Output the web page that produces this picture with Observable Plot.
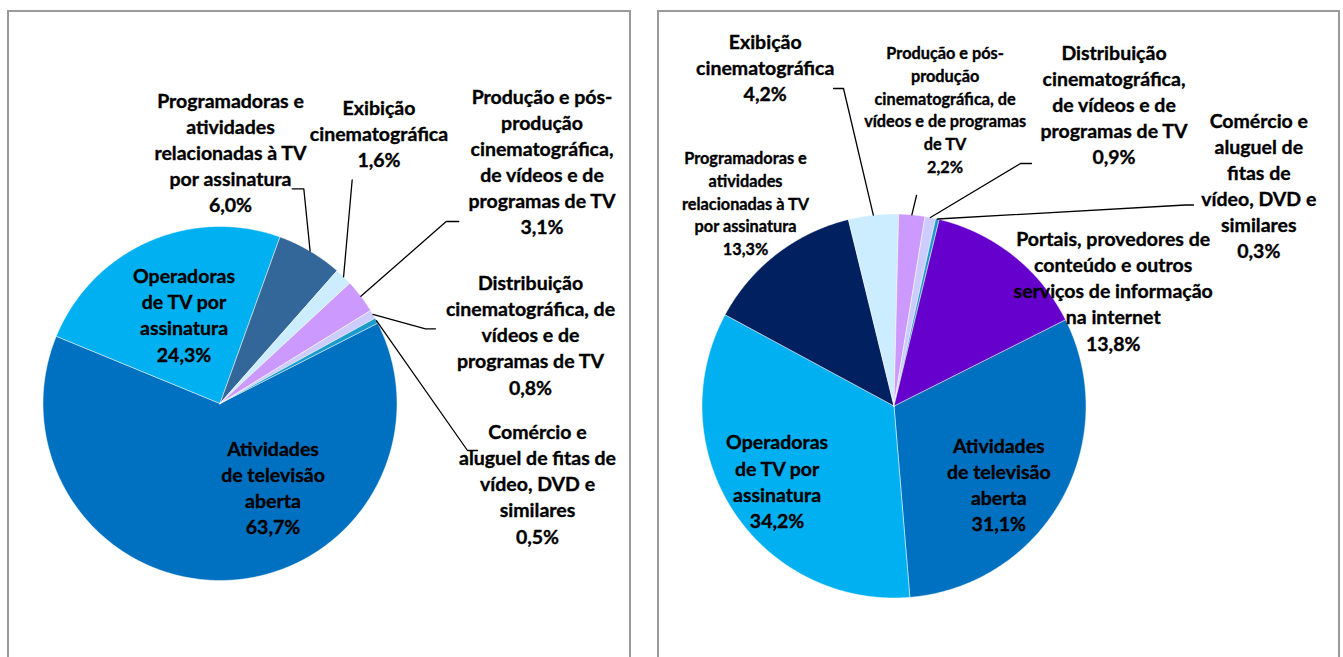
<!DOCTYPE html>
<html>
<head>
<meta charset="utf-8">
<script src="https://cdn.jsdelivr.net/npm/d3@7"></script>
<script src="https://cdn.jsdelivr.net/npm/@observablehq/plot@0.6"></script>
<style>
  html, body { margin: 0; padding: 0; background: #fff; }
  #page { position: relative; width: 1343px; height: 657px; overflow: hidden; }
  .panel { position: absolute; border: 2px solid #9a9a9a; box-sizing: border-box; }
  .chart { position: absolute; top: 0; }
</style>
</head>
<body>
<div id="page">
  <div class="panel" style="left:7px; top:10px; width:624px; height:700px;"></div>
  <div class="panel" style="left:657px; top:10px; width:683px; height:700px;"></div>
  <div id="left" class="chart" style="left:0px;"></div>
  <div id="right" class="chart" style="left:660px;"></div>
</div>
<script>
// ---------------- DATA ----------------
const categories = [
  "Atividades de televisão aberta",
  "Operadoras de TV por assinatura",
  "Programadoras e atividades relacionadas à TV por assinatura",
  "Exibição cinematográfica",
  "Produção e pós-produção cinematográfica, de vídeos e de programas de TV",
  "Distribuição cinematográfica, de vídeos e de programas de TV",
  "Comércio e aluguel de fitas de vídeo, DVD e similares",
  "Portais, provedores de conteúdo e outros serviços de informação na internet"
];
// percent shares (null = category absent from that chart)
const valuesLeft  = [63.7, 24.3, 6.0, 1.6, 3.1, 0.8, 0.5, null];
const valuesRight = [31.1, 34.2, 13.3, 4.2, 2.2, 0.9, 0.3, 13.8];

// wrapped label texts, as printed in each chart
const labelsLeft = [
  "Atividades\nde televisão\naberta",
  "Operadoras\nde TV por\nassinatura",
  "Programadoras e\natividades\nrelacionadas à TV\npor assinatura",
  "Exibição\ncinematográfica",
  "Produção e pós-\nprodução\ncinematográfica,\nde vídeos e de\nprogramas de TV",
  "Distribuição\ncinematográfica, de\nvídeos e de\nprogramas de TV",
  "Comércio e\naluguel de fitas de\nvídeo, DVD e\nsimilares",
  null
];
const labelsRight = [
  "Atividades\nde televisão\naberta",
  "Operadoras\nde TV por\nassinatura",
  "Programadoras e\natividades\nrelacionadas à TV\npor assinatura",
  "Exibição\ncinematográfica",
  "Produção e pós-\nprodução\ncinematográfica, de\nvídeos e de programas\nde TV",
  "Distribuição\ncinematográfica,\nde vídeos e de\nprogramas de TV",
  "Comércio e\naluguel de\nfitas de\nvídeo, DVD e\nsimilares",
  "Portais, provedores de\nconteúdo e outros\nserviços de informação\nna internet"
];

// ---------------- STYLES / LAYOUT ----------------
const colorsLeft  = ["#0070C0", "#00B0F0", "#336699", "#CCECFF", "#CC99FF", "#CCCCFF", "#1A9BCB", "#6600CC"];
const colorsRight = ["#0070C0", "#00B0F0", "#002060", "#CCECFF", "#CC99FF", "#CCCCFF", "#1A9BCB", "#6600CC"];

// label block centre (pixels relative to pie centre), size class, leader elbow/end
const layoutLeft = [
  {dx: 53,    dy: 85.5,   small: false},
  {dx: -36,   dy: -87,    small: false},
  {dx: 10.5,  dy: -249.3, small: false, elbow: [83.8, -214.7], end: [72.2, -214.7]},
  {dx: 159,   dy: -268,   small: false, elbow: [132.2, -223.7], end: [132.2, -223.7]},
  {dx: 322,   dy: -240.5, small: false, elbow: [226.2, -182], end: [238.8, -182]},
  {dx: 310.5, dy: -67,    small: false, elbow: [205.5, -74.7], end: [215.5, -74.7]},
  {dx: 317.5, dy: 82,     small: false, elbow: [247.5, 47], end: [257.5, 47]},
  null
];
const layoutRight = [
  {dx: 104.8,  dy: 80.4,   small: false},
  {dx: -116.9, dy: 76.7,   small: false},
  {dx: -148.5, dy: -201.2, small: true},
  {dx: -128.8, dy: -336.6, small: false, elbow: [-50.5, -317.5], end: [-60.5, -317.5]},
  {dx: 51.1,   dy: -294.9, small: true,  elbow: [22.5, -210.5], end: [22.5, -210.5]},
  {dx: 220,    dy: -299.7, small: false, elbow: [126.5, -242.5], end: [137.5, -242.5]},
  {dx: 364.8,  dy: -219,   small: false, elbow: [291.5, -201], end: [299.5, -201]},
  {dx: 219.2,  dy: -113.5, small: false}
];

const FONT = "Lato";
const BIG = 19.5, SMALL = 16.3;
const fmt = v => v.toFixed(1).replace(".", ",") + "%";

function pie({values, labels, colors, layout, width, height, cx, cy, r, start}) {
  const total = d3.sum(values.filter(v => v != null));
  const slices = [];
  let acc = start;
  values.forEach((v, i) => {
    if (v == null) return;
    const a0 = acc, a1 = acc + v / total * 360;
    acc = a1;
    slices.push({i, a0, a1, mid: (a0 + a1) / 2});
  });
  const rad = a => a * Math.PI / 180;
  const polys = slices.map(s => {
    const pts = [{x: 0, y: 0}];
    const n = Math.max(2, Math.ceil((s.a1 - s.a0) / 0.5));
    for (let j = 0; j <= n; j++) {
      const a = rad(s.a0 + (s.a1 - s.a0) * j / n);
      pts.push({x: r * Math.sin(a), y: -r * Math.cos(a)});
    }
    pts.push({x: 0, y: 0});
    return {i: s.i, pts};
  });
  const leaders = [];
  const texts = [];
  slices.forEach(s => {
    const L = layout[s.i];
    texts.push({x: L.dx, y: L.dy, small: L.small, text: labels[s.i] + "\n" + fmt(values[s.i])});
    if (L.elbow) {
      const a = rad(s.mid);
      leaders.push({k: s.i, x: r * Math.sin(a), y: -r * Math.cos(a)});
      leaders.push({k: s.i, x: L.elbow[0], y: L.elbow[1]});
      leaders.push({k: s.i, x: L.end[0], y: L.end[1]});
    }
  });
  const textOpts = (small) => ({
    x: "x", y: "y", text: "text",
    fontSize: small ? SMALL : BIG,
    lineHeight: small ? 22.8 / SMALL : 26.1 / BIG,
    fontWeight: "bold", fontFamily: FONT,
    textAnchor: "middle", lineAnchor: "middle", fill: "#000",
    stroke: "#000", strokeWidth: 0.35, dy: -2.5
  });
  return Plot.plot({
    width, height,
    margin: 0,
    x: {domain: [-cx, width - cx], range: [0, width], axis: null},
    y: {domain: [-cy, height - cy], range: [0, height], axis: null},
    style: {background: "transparent", fontFamily: FONT},
    marks: [
      ...polys.map(p => Plot.line(p.pts, {x: "x", y: "y", fill: colors[p.i], stroke: "#ffffff", strokeWidth: 0.6, strokeOpacity: 0.8})),
      Plot.line(leaders, {x: "x", y: "y", z: "k", stroke: "#000", strokeWidth: 1.3}),
      Plot.text(texts.filter(t => !t.small), textOpts(false)),
      Plot.text(texts.filter(t => t.small), textOpts(true))
    ]
  });
}

document.getElementById("left").append(pie({
  values: valuesLeft, labels: labelsLeft, colors: colorsLeft, layout: layoutLeft,
  width: 650, height: 657, cx: 219.5, cy: 403, r: 177, start: 63
}));
document.getElementById("right").append(pie({
  values: valuesRight, labels: labelsRight, colors: colorsRight, layout: layoutRight,
  width: 683, height: 657, cx: 233.5, cy: 405.5, r: 192, start: 63.3
}));
</script>
</body>
</html>
